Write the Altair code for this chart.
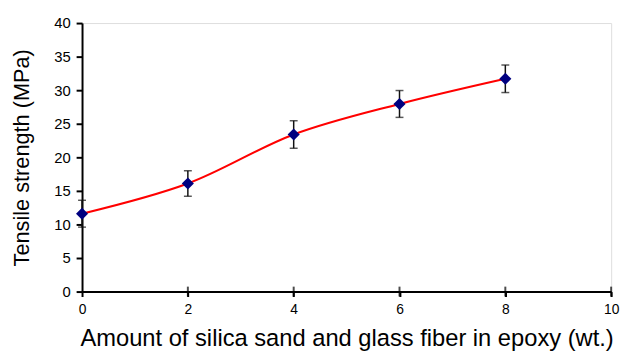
import altair as alt
import pandas as pd

amount = [0, 2, 4, 6, 8]
strength = [11.6, 16.1, 23.4, 27.95, 31.7]
err = [2.0, 1.9, 2.05, 2.0, 2.05]
x_ticks = [0, 2, 4, 6, 8, 10]
y_ticks = [0, 5, 10, 15, 20, 25, 30, 35, 40]

df = pd.DataFrame({
    "x": amount,
    "y": strength,
    "lo": [s - e for s, e in zip(strength, err)],
    "hi": [s + e for s, e in zip(strength, err)],
})
ticks_df = pd.DataFrame({"x": x_ticks[1:], "y": [0] * (len(x_ticks) - 1)})

FONT = "Liberation Sans"

xscale = alt.Scale(domain=[0, 10], nice=False)
yscale = alt.Scale(domain=[0, 40], nice=False)

xaxis = alt.Axis(
    values=x_ticks, title="Amount of silica sand and glass fiber in epoxy (wt.)",
    grid=False, domainColor="black", domainWidth=2, tickColor="black", tickWidth=2,
    tickSize=5, labelFontSize=14, labelFont=FONT, labelColor="black", labelPadding=6,
    titleFont=FONT, titleFontSize=24, titleFontWeight="normal", titleColor="black",
    titlePadding=11, labelFlush=False, labelOverlap=False,
)
yaxis = alt.Axis(
    values=y_ticks, title="Tensile strength (MPa)",
    grid=False, domainColor="black", domainWidth=2, tickColor="black", tickWidth=2,
    tickSize=6, labelFontSize=15, labelFont=FONT, labelColor="black", labelPadding=6,
    titleFont=FONT, titleFontSize=22, titleFontWeight="normal", titleColor="black",
    titlePadding=21, labelOverlap=False,
)


def X(field):
    return alt.X(field, scale=xscale, axis=xaxis)


def Y(field):
    return alt.Y(field, scale=yscale, axis=yaxis)


base = alt.Chart(df)

line = base.mark_line(color="#ff0000", strokeWidth=2, interpolate="catmull-rom").encode(
    x=X("x:Q"), y=Y("y:Q"),
)
bars = base.mark_rule(color="#111111", strokeWidth=1.5).encode(
    x=X("x:Q"), y=Y("lo:Q"), y2="hi:Q"
)
caps_hi = base.mark_tick(color="#111111", orient="horizontal", size=8, thickness=1.5).encode(
    x=X("x:Q"), y=Y("hi:Q")
)
caps_lo = base.mark_tick(color="#111111", orient="horizontal", size=8, thickness=1.5).encode(
    x=X("x:Q"), y=Y("lo:Q")
)
points = base.mark_point(shape="diamond", filled=True, color="#000080", size=150, opacity=1).encode(
    x=X("x:Q"), y=Y("y:Q")
)
inner_ticks = alt.Chart(ticks_df).mark_tick(color="black", orient="vertical", size=10, thickness=2).encode(
    x=X("x:Q"), y=Y("y:Q")
)

chart = alt.layer(line, bars, caps_hi, caps_lo, points, inner_ticks).properties(
    width=536, height=272,
    autosize=alt.AutoSizeParams(type="none"),
    padding={"left": 75, "top": 13, "right": 12, "bottom": 63},
).configure_view(stroke="black", strokeWidth=2).configure(background="white")

chart.save("out.html", embed_options={"renderer": "svg", "actions": False})
